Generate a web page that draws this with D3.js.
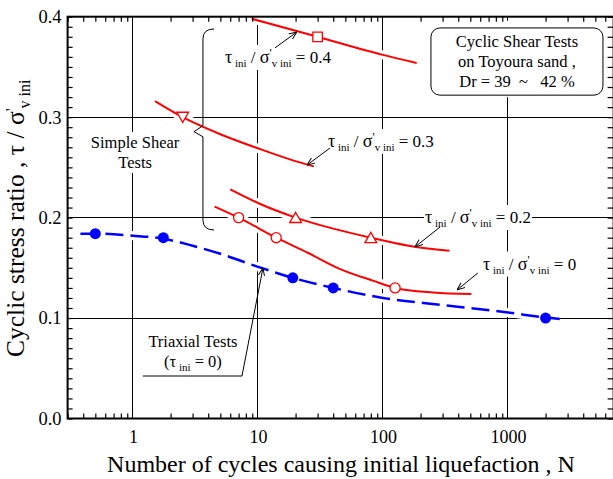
<!DOCTYPE html>
<html>
<head>
<meta charset="utf-8">
<script src="https://cdn.jsdelivr.net/npm/d3@7"></script>
<style>
  body { margin: 0; background: #fff; }
  svg { display: block; }
  text { font-family: "Liberation Serif", "Times New Roman", serif; fill: #000; white-space: pre; }
</style>
</head>
<body>
<div id="chart"></div>
<script>
// Triaxial tests (tau_ini = 0), blue filled circles + dashed fit
const triaxialN = [0.5, 1.75, 19, 40, 2000];
const triaxialRatio = [0.184, 0.18, 0.14, 0.13, 0.1];
const triaxialFitN = [0.38, 0.5, 1, 1.75, 3, 5, 10, 19, 40, 100, 300, 1000, 2000, 2600];
const triaxialFitRatio = [0.184, 0.184, 0.182, 0.179, 0.172, 0.164, 0.151, 0.14, 0.13, 0.12, 0.113, 0.1055, 0.1005, 0.099];

// Simple shear tests, tau_ini / sigma'v_ini = 0 (open circles)
const ss0N = [7, 14, 125];
const ss0Ratio = [0.2, 0.18, 0.13];
const ss0FitN = [4.5, 7, 14, 25, 45, 84, 125, 250, 510];
const ss0FitRatio = [0.211, 0.2, 0.18, 0.165, 0.149, 0.137, 0.13, 0.1255, 0.124];

// tau_ini / sigma'v_ini = 0.2 (open triangles)
const ss02N = [20, 80];
const ss02Ratio = [0.2, 0.18];
const ss02FitN = [6, 10, 20, 40, 80, 160, 340];
const ss02FitRatio = [0.228, 0.2145, 0.2, 0.189, 0.18, 0.172, 0.167];

// tau_ini / sigma'v_ini = 0.3 (inverted triangle)
const ss03N = [2.5];
const ss03Ratio = [0.3];
const ss03FitN = [1.5, 2.5, 5, 10, 18, 28];
const ss03FitRatio = [0.316, 0.3, 0.283, 0.269, 0.258, 0.251];

// tau_ini / sigma'v_ini = 0.4 (square)
const ss04N = [30];
const ss04Ratio = [0.38];
const ss04FitN = [8.9, 30, 100, 186];
const ss04FitRatio = [0.398, 0.38, 0.362, 0.354];

// axes
const xGrid = [1, 10, 100, 1000];
const yGrid = [0.1, 0.2, 0.3];
const xLabels = [1, 10, 100, 1000];
const yLabels = [0, 0.1, 0.2, 0.3, 0.4];

const W = 613, H = 479;
const pL = 67.6, pR = 613.6, pT = 16.7, pB = 418.5;

const svg = d3.select("#chart").append("svg")
    .attr("width", W)
    .attr("height", H);

const x = d3.scaleLog().domain([0.3, 7000]).range([pL, pR]);
const y = d3.scaleLinear().domain([0, 0.4]).range([pB, pT]);

// arrow head
svg.append("defs").append("marker")
    .attr("id", "arr")
    .attr("viewBox", "0 0 10 10")
    .attr("refX", 10).attr("refY", 5)
    .attr("markerWidth", 8).attr("markerHeight", 8)
    .attr("markerUnits", "userSpaceOnUse")
    .attr("orient", "auto")
    .append("path")
    .attr("d", "M0,1 L10,5 L0,9")
    .attr("fill", "none")
    .attr("stroke", "#000")
    .attr("stroke-width", 1.2);

// grid lines
const grid = svg.append("g").attr("shape-rendering", "crispEdges");
grid.selectAll(".gx").data(xGrid).enter().append("line")
    .attr("x1", d => x(d)).attr("x2", d => x(d))
    .attr("y1", pT).attr("y2", pB)
    .attr("stroke", "#000").attr("stroke-width", 1);
grid.selectAll(".gy").data(yGrid).enter().append("line")
    .attr("x1", pL).attr("x2", pR)
    .attr("y1", d => y(d)).attr("y2", d => y(d))
    .attr("stroke", "#000").attr("stroke-width", 1);

const line = d3.line()
    .x(d => x(d[0]))
    .y(d => y(d[1]))
    .curve(d3.curveMonotoneX);

const redSeries = [
    { n: ss0N, r: ss0Ratio, fn: ss0FitN, fr: ss0FitRatio, sym: d3.symbolCircle, size: 80, rot: 0 },
    { n: ss02N, r: ss02Ratio, fn: ss02FitN, fr: ss02FitRatio, sym: d3.symbolTriangle, size: 60, rot: 0 },
    { n: ss03N, r: ss03Ratio, fn: ss03FitN, fr: ss03FitRatio, sym: d3.symbolTriangle, size: 60, rot: 180 },
    { n: ss04N, r: ss04Ratio, fn: ss04FitN, fr: ss04FitRatio, sym: d3.symbolSquare, size: 90, rot: 0 }
];

// white halos so the grid gets broken round the curves
const halo = svg.append("g");
halo.append("path")
    .attr("d", line(d3.zip(triaxialFitN, triaxialFitRatio)))
    .attr("fill", "none").attr("stroke", "#fff").attr("stroke-width", 9);
redSeries.forEach(s => {
    halo.append("path")
        .attr("d", line(d3.zip(s.fn, s.fr)))
        .attr("fill", "none").attr("stroke", "#fff").attr("stroke-width", 9);
});

// annotation layer (labels with white backgrounds)
const notes = svg.append("g");
const bgLayer = notes.append("g");
const textLayer = notes.append("g");

function richText(g, px, py, parts, anchor) {
    const t = g.append("text")
        .attr("x", px).attr("y", py)
        .attr("text-anchor", anchor || "start");
    let cur = 0;
    parts.forEach(p => {
        const [s, size, shift, dx] = p;
        t.append("tspan")
            .attr("font-size", size)
            .attr("dy", shift - cur)
            .attr("dx", dx || 0)
            .text(s);
        cur = shift;
    });
    return t;
}

function backWhite(t, pad) {
    const b = t.node().getBBox();
    bgLayer.append("rect")
        .attr("x", b.x - pad).attr("y", b.y - pad)
        .attr("width", b.width + 2 * pad).attr("height", b.height + 2 * pad)
        .attr("fill", "#fff");
}

function ratioLabel(n, v, value) {
    const t = richText(textLayer, x(n), y(v), [
        ["τ", 18, 0], [" ini", 11, 4], [" / ", 17, 0], ["σ", 18, 0],
        ["'", 12, -6], ["v", 11, 4], [" ini", 11, 4], [" = " + value, 17, 0]
    ]);
    backWhite(t, 1);
}

ratioLabel(5.45, 0.354, "0.4");
ratioLabel(36.3, 0.2703, "0.3");
ratioLabel(217, 0.1946, "0.2");
ratioLabel(631, 0.1483, "0");

// simple shear label
const ssA = richText(textLayer, x(1.04), y(0.2693), [["Simple Shear", 16.5, 0]], "middle");
const ssB = richText(textLayer, x(1.04), y(0.2494), [["Tests", 16.5, 0]], "middle");
backWhite(ssA, 1);
backWhite(ssB, 1);

// triaxial label
const txA = richText(textLayer, x(3.02), y(0.0709), [["Triaxial Tests", 16.5, 0]], "middle");
const txB = richText(textLayer, x(3.02), y(0.0516), [["(τ", 16.5, 0], [" ini", 11, 4], [" = 0)", 16.5, 0]], "middle");
backWhite(txA, 1);
backWhite(txB, 1);

// info box
const boxN = [242, 5754];
const boxV = [0.3888, 0.3219];
bgLayer.append("rect")
    .attr("x", x(boxN[0]) - 2).attr("y", pT + 4)
    .attr("width", x(boxN[1]) - x(boxN[0]) + 4).attr("height", y(boxV[1]) - pT - 2)
    .attr("fill", "#fff");
textLayer.append("rect")
    .attr("x", x(boxN[0])).attr("y", y(boxV[0]))
    .attr("width", x(boxN[1]) - x(boxN[0])).attr("height", y(boxV[1]) - y(boxV[0]))
    .attr("rx", 9).attr("ry", 9)
    .attr("fill", "#fff").attr("stroke", "#000").attr("stroke-width", 1);
const boxLines = ["Cyclic Shear Tests", "on Toyoura sand ,", "Dr = 39  ~   42 %"];
const boxBase = [0.3701, 0.3502, 0.3303];
boxLines.forEach((s, i) => {
    richText(textLayer, x(1180), y(boxBase[i]), [[s, 16.5, 0]], "middle");
});

// curves
const curves = svg.append("g");
curves.append("path")
    .attr("d", line(d3.zip(triaxialFitN, triaxialFitRatio)))
    .attr("fill", "none").attr("stroke", "#0000ff")
    .attr("stroke-width", 2.5).attr("stroke-dasharray", "18,7");
redSeries.forEach(s => {
    curves.append("path")
        .attr("d", line(d3.zip(s.fn, s.fr)))
        .attr("fill", "none").attr("stroke", "#ff0000").attr("stroke-width", 2);
});
redSeries.forEach(s => {
    curves.selectAll(null).data(d3.zip(s.n, s.r)).enter().append("path")
        .attr("d", d3.symbol().type(s.sym).size(s.size))
        .attr("transform", d => `translate(${x(d[0])},${y(d[1]) + (s.sym === d3.symbolTriangle ? (s.rot ? -1.5 : 1.5) : 0)}) rotate(${s.rot})`)
        .attr("fill", "#fff").attr("stroke", "#ff0000").attr("stroke-width", 1.3);
});
curves.selectAll(".tri").data(d3.zip(triaxialN, triaxialRatio)).enter().append("circle")
    .attr("cx", d => x(d[0])).attr("cy", d => y(d[1]))
    .attr("r", 5.5).attr("fill", "#0000ff");

// arrows
const arrows = [
    [[13.7, 0.369], [20.5, 0.3848]],
    [[37.7, 0.2693], [24.7, 0.2523]],
    [[286, 0.1906], [180, 0.1707]],
    [[575, 0.1449], [391, 0.1279]],
    [[1.2, 0.0423], [7.45, 0.0423], [10.96, 0.1498]]
];
const straight = d3.line().x(d => x(d[0])).y(d => y(d[1]));
arrows.forEach(a => {
    svg.append("path")
        .attr("d", straight(a))
        .attr("fill", "none").attr("stroke", "#000").attr("stroke-width", 1)
        .attr("marker-end", "url(#arr)");
});

// brace for the simple shear tests
const bx = x(3.63), bxe = x(4.45), bxt = x(3.076);
const byt = y(0.3878), bym = y(0.2855), byb = y(0.1877);
const rr = 10;
svg.append("path")
    .attr("d", `M${bxe},${byt} Q${bx},${byt} ${bx},${byt + rr} L${bx},${bym - 6} L${bxt},${bym} L${bx},${bym + 5} L${bx},${byb - rr} Q${bx},${byb} ${bxe},${byb}`)
    .attr("fill", "none").attr("stroke", "#000").attr("stroke-width", 1);

// axes: minor ticks pointing inward
const minorX = [];
for (let e = -1; e <= 3; e++) {
    for (let m = 2; m <= 9; m++) {
        const v = m * Math.pow(10, e);
        if (v >= 0.3 && v <= 7000) minorX.push(v);
    }
}
const minorY = d3.range(0, 41).map(i => i / 100);

svg.append("g")
    .attr("transform", `translate(0,${pB})`)
    .call(d3.axisBottom(x).tickValues(minorX).tickSize(-5).tickFormat(""))
    .call(g => g.select(".domain").remove())
    .selectAll("line").attr("stroke-width", 1.2);
svg.append("g")
    .attr("transform", `translate(0,${pT})`)
    .call(d3.axisTop(x).tickValues(minorX).tickSize(-5).tickFormat(""))
    .call(g => g.select(".domain").remove())
    .selectAll("line").attr("stroke-width", 1.2);
svg.append("g")
    .attr("transform", `translate(${pL},0)`)
    .call(d3.axisLeft(y).tickValues(minorY).tickSize(-5).tickFormat(""))
    .call(g => g.select(".domain").remove())
    .selectAll("line").attr("stroke-width", 1.2);
svg.append("g")
    .attr("transform", `translate(${pR},0)`)
    .call(d3.axisRight(y).tickValues(minorY).tickSize(-6).tickFormat(""))
    .call(g => g.select(".domain").remove())
    .selectAll("line").attr("stroke-width", 1.2);

// frame
svg.append("rect")
    .attr("x", pL).attr("y", pT)
    .attr("width", pR - pL).attr("height", pB - pT)
    .attr("fill", "none").attr("stroke", "#000").attr("stroke-width", 2);

// tick labels
const xl = svg.append("g")
    .attr("transform", `translate(0,${pB})`)
    .call(d3.axisBottom(x).tickValues(xLabels).tickSize(0).tickPadding(12).tickFormat(d3.format("d")));
xl.select(".domain").remove();
xl.selectAll("text").style("font-family", "'Liberation Serif', serif").attr("font-size", 18);

const yl = svg.append("g")
    .attr("transform", `translate(${pL},0)`)
    .call(d3.axisLeft(y).tickValues(yLabels).tickSize(0).tickPadding(6).tickFormat(d3.format(".1f")));
yl.select(".domain").remove();
yl.selectAll("text").style("font-family", "'Liberation Serif', serif").attr("font-size", 18.5);

// axis titles
richText(svg, 341, 472, [["Number of cycles causing initial liquefaction , N", 24, 0]], "middle");
const yt = svg.append("g").attr("transform", "translate(24,357) rotate(-90)");
richText(yt, 0, 0, [["Cyclic stress ratio , τ / σ", 25.5, 0], ["'", 16, -7], ["v", 16, 6], [" ini", 16, 6]], "start");
</script>
</body>
</html>
